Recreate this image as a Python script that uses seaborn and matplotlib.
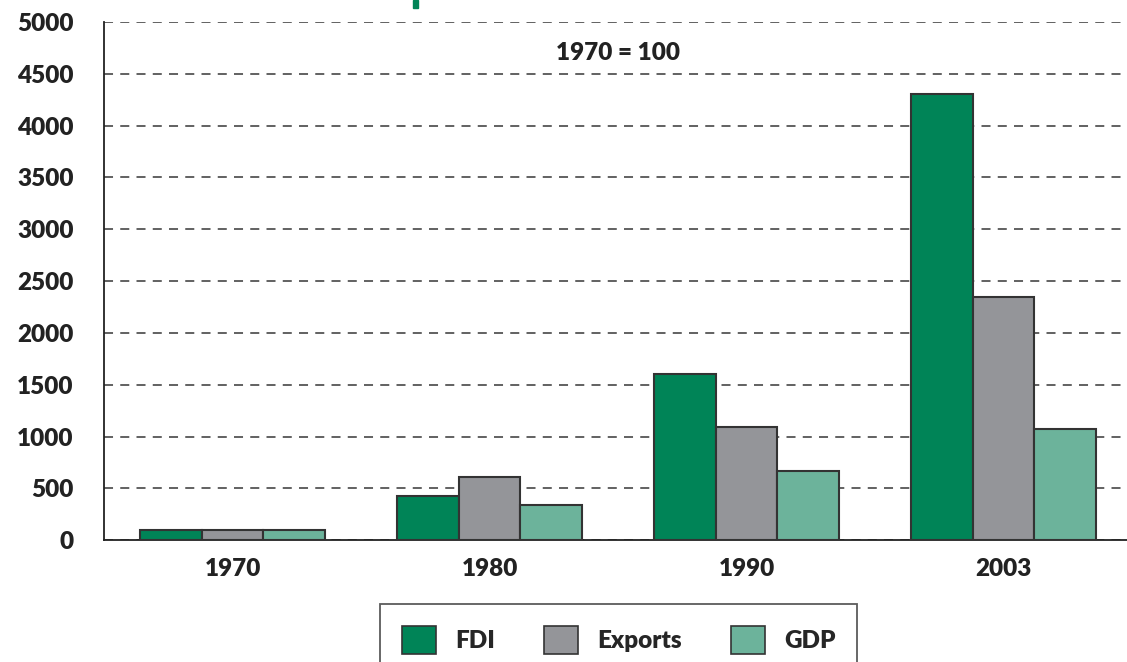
import pandas as pd
import numpy as np
import matplotlib
matplotlib.use('Agg')
import matplotlib.pyplot as plt
from matplotlib.patches import Rectangle, Patch
import seaborn as sns

sns.set_style("white")
plt.rcParams['font.family'] = ['Lato', 'DejaVu Sans']
plt.rcParams['font.weight'] = 'heavy'

# Index values, 1970 = 100
years = ['1970', '1980', '1990', '2003']
fdi = [100, 425, 1600, 4300]
exports = [100, 610, 1090, 2350]
gdp = [100, 340, 665, 1075]
series = ['FDI', 'Exports', 'GDP']
colors = ['#008457', '#949599', '#6cb39b']

df = pd.DataFrame({
    'year': years * 3,
    'series': ['FDI'] * 4 + ['Exports'] * 4 + ['GDP'] * 4,
    'value': fdi + exports + gdp,
})

fig = plt.figure(figsize=(11.27, 6.62), dpi=100)
ax = fig.add_axes([0.0923, 0.184, 0.9122, 0.783])

sns.barplot(data=df, x='year', y='value', hue='series', hue_order=series,
            palette=colors, width=0.72, edgecolor='#333333', linewidth=1.5,
            saturation=1, ax=ax, legend=False, zorder=3)

ax.set_xlim(-0.5, 3.5)
ax.set_ylim(0, 5000)
ax.set_yticks(np.arange(0, 5001, 500))
ax.yaxis.grid(True, linestyle=(0, (5, 4)), color='#555555', linewidth=1.3, zorder=0)
ax.set_axisbelow(True)

ax.set_xlabel('')
ax.set_ylabel('')
for side in ['top', 'right']:
    ax.spines[side].set_visible(False)
ax.spines['left'].set_color('#222222')
ax.spines['bottom'].set_color('#222222')
ax.spines['left'].set_linewidth(1.3)
ax.spines['bottom'].set_linewidth(1.3)

ax.tick_params(axis='y', length=19, width=1.3, color='#222222', labelsize=17.5, pad=3)
ax.tick_params(axis='x', which='major', length=0, labelsize=17.5, pad=13)
ax.set_xticks([0.5, 1.5, 2.5, -0.5], minor=True)
ax.tick_params(axis='x', which='minor', length=10, width=1.3, color='#222222')
for lbl in ax.get_xticklabels() + ax.get_yticklabels():
    lbl.set_fontweight('heavy')
    lbl.set_color('#222222')

ax.text(0.5, 0.94, '1970 = 100', transform=ax.transAxes, ha='center', va='center',
        fontsize=17.5, fontweight='heavy', color='#222222')

# fragment of a cropped title at the top edge
fig.add_artist(Rectangle((0.3665, 0.988), 0.004, 0.012, transform=fig.transFigure,
                         color='#008457'))

handles = [Patch(facecolor=c, edgecolor='#333333', linewidth=1.2) for c in colors]
leg = fig.legend(handles, series, loc='upper center', bbox_to_anchor=(0.549, 0.087),
                 ncol=3, frameon=True, fancybox=False,
                 handlelength=1.4, handleheight=1.4, columnspacing=2.0,
                 handletextpad=0.8, borderpad=0.9, borderaxespad=0,
                 prop={'weight': 'heavy', 'size': 17.5})
leg.get_frame().set_edgecolor('#333333')
leg.get_frame().set_linewidth(1.3)

plt.savefig('out.png', dpi=100)
